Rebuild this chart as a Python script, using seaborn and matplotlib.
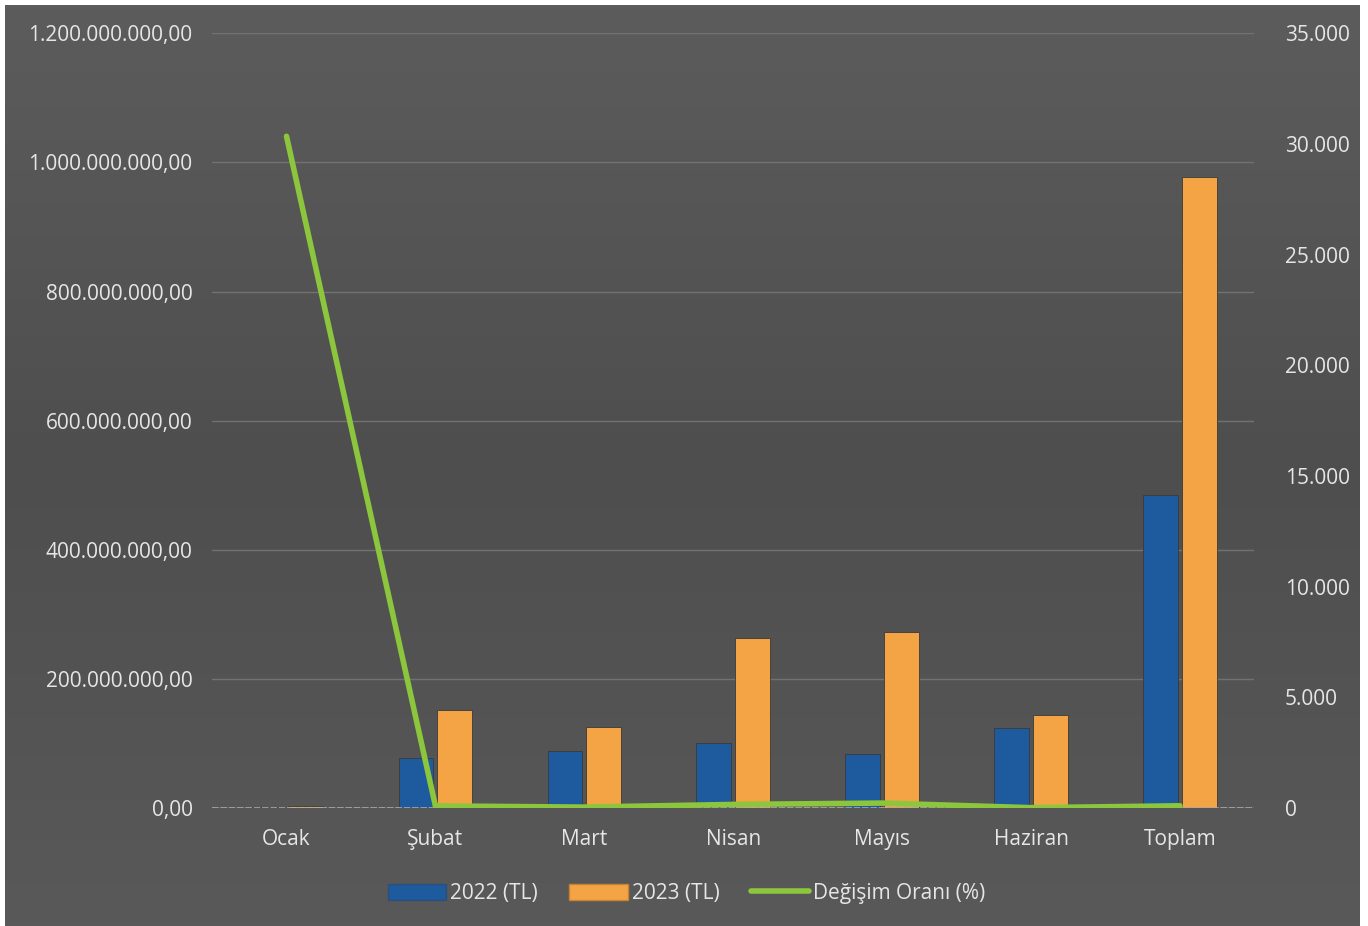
import numpy as np
import pandas as pd
import matplotlib
matplotlib.use("Agg")
import matplotlib.pyplot as plt
from matplotlib.ticker import FuncFormatter, MultipleLocator
from matplotlib.patches import Patch
from matplotlib.lines import Line2D
import seaborn as sns

# ---------------------------------------------------------------------------
# Veriler
# ---------------------------------------------------------------------------
aylar = ["Ocak", "Şubat", "Mart", "Nisan", "Mayıs", "Haziran", "Toplam"]
tutar_2022 = [1500000, 77000000, 88000000, 100000000, 84000000, 124000000, 485000000]
tutar_2023 = [3000000, 152000000, 125000000, 263000000, 272000000, 144000000, 977000000]
degisim_orani = [30350, 96, 42, 163, 224, 16, 101]

seri_adlari = ["2022 (TL)", "2023 (TL)", "Değişim Oranı (%)"]
renk_2022 = "#1d5a9e"
renk_2023 = "#f4a444"
renk_degisim = "#8cc63c"
yazi_rengi = "#e6e6e6"

df = pd.DataFrame({"Ay": aylar, seri_adlari[0]: tutar_2022, seri_adlari[1]: tutar_2023})
df_bar = df.melt(id_vars="Ay", var_name="Yil", value_name="Tutar")
df_line = pd.DataFrame({"Ay": aylar, "Oran": degisim_orani})

sns.set_theme(style="dark")
plt.rcParams["font.family"] = ["Open Sans", "DejaVu Sans"]

fig = plt.figure(figsize=(13.68, 9.26), dpi=100, facecolor="white")

# koyu gri arka plan (hafif dikey gradyan)
bg = fig.add_axes([5 / 1368, 0, 1355 / 1368, 921 / 926])
grad = np.linspace(0, 1, 256).reshape(-1, 1)
bg.imshow(grad, aspect="auto", cmap=matplotlib.colors.LinearSegmentedColormap.from_list(
    "bg", ["#5c5c5c", "#4e4e4e", "#595959"]), extent=[0, 1, 0, 1])
bg.set_axis_off()

ax = fig.add_axes([0.155, 0.1274, 0.762, 0.8366])
ax.set_facecolor("none")
sns.barplot(data=df_bar, x="Ay", y="Tutar", hue="Yil", order=aylar,
            palette=[renk_2022, renk_2023], saturation=1, width=0.52, gap=0.1,
            edgecolor="#3a3a3a", linewidth=0.6, ax=ax, legend=False)

ax.set_ylim(0, 1200000000)
ax.set_xlim(-0.5, 6.5)
ax.yaxis.set_major_locator(MultipleLocator(200000000))
ax.yaxis.set_major_formatter(FuncFormatter(
    lambda v, p: f"{v:,.2f}".replace(",", "X").replace(".", ",").replace("X", ".")))
ax.grid(axis="y", color="#727272", linewidth=1.0)
ax.set_axisbelow(True)
for s in ax.spines.values():
    s.set_visible(False)
ax.axhline(0, color="#a8a8a8", linewidth=1.2, linestyle=(0, (4, 1)), zorder=1)
ax.set_xlabel("")
ax.set_ylabel("")
ax.tick_params(axis="y", colors=yazi_rengi, labelsize=15, length=0, pad=14)
ax.tick_params(axis="x", colors=yazi_rengi, labelsize=15, length=0, pad=15)

ax2 = ax.twinx()
sns.lineplot(data=df_line, x="Ay", y="Oran", color=renk_degisim, linewidth=4,
             sort=False, ax=ax2)
ax2.set_ylim(0, 35000)
ax2.set_xlim(-0.5, 6.5)
ax2.yaxis.set_major_locator(MultipleLocator(5000))
ax2.yaxis.set_major_formatter(FuncFormatter(lambda v, p: f"{v:,.0f}".replace(",", ".")))
ax2.tick_params(axis="y", colors=yazi_rengi, labelsize=15, length=0, pad=22)
ax2.set_ylabel("")
ax2.grid(False)
for s in ax2.spines.values():
    s.set_visible(False)

handles = [
    Patch(facecolor=renk_2022, edgecolor="#2b4f7a"),
    Patch(facecolor=renk_2023, edgecolor="#c8852f"),
    Line2D([0], [0], color=renk_degisim, linewidth=4),
]
fig.legend(handles, seri_adlari, loc="center", bbox_to_anchor=(0.502, 0.035), ncol=3,
           frameon=False, fontsize=15, labelcolor=yazi_rengi, handlelength=2.8,
           handleheight=0.8, handletextpad=0.2, columnspacing=1.5)

fig.savefig("out.png", dpi=100, facecolor=fig.get_facecolor())
